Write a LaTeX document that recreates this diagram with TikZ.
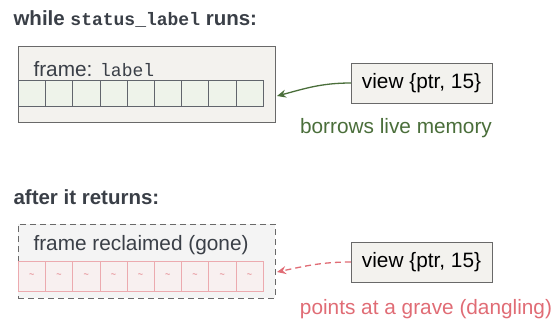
\documentclass[tikz,border=0pt]{standalone}
\usepackage{fontspec}
\setmainfont{Liberation Sans}
\setmonofont{Liberation Mono}
\usetikzlibrary{arrows.meta,positioning}
\definecolor{lbink}{RGB}{58,63,71}
\definecolor{lbgrey}{RGB}{105,105,105}
\definecolor{lbpaper}{RGB}{243,242,238}
\definecolor{lbgone}{RGB}{244,244,244}
\definecolor{lbcell}{RGB}{238,243,234}
\definecolor{lbgreen}{RGB}{74,110,58}
\definecolor{lbred}{RGB}{224,108,117}
\definecolor{lbpink}{RGB}{248,240,240}
\definecolor{lbpinkline}{RGB}{236,170,175}
\newcommand{\lbcode}[1]{{\fontsize{18}{20}\selectfont\texttt{#1}}}
\tikzset{
  lbtitle/.style={anchor=west, text=lbink, font=\fontsize{20.5}{24}\selectfont\bfseries},
  lbframe/.style={draw=lbgrey, fill=lbpaper, minimum width=257pt, minimum height=76pt, anchor=north west, inner sep=0pt},
  lbgoneframe/.style={draw=lbgrey, dashed, dash pattern=on 6pt off 4pt, fill=lbgone, minimum width=257pt, minimum height=74pt, anchor=north west, inner sep=0pt},
  lbcellbox/.style={draw=lbink!80, fill=lbcell, minimum width=27.2pt, minimum height=26pt, anchor=north west, inner sep=0pt},
  lbdeadcell/.style={draw=lbpinkline, fill=lbpink, minimum width=27.2pt, minimum height=30pt, anchor=north west, inner sep=0pt, text=lbred, font=\fontsize{9}{10}\selectfont},
  lbview/.style={draw=lbgrey, fill=lbpaper, minimum width=141pt, minimum height=40pt, inner sep=0pt, font=\fontsize{20.8}{24}\selectfont},
  lbnote/.style={font=\fontsize{20.8}{24}\selectfont},
  lbarr/.style={-{Stealth[length=9pt,width=8pt,inset=3pt]}, line width=1.3pt, draw=lbgreen},
  lbarrdead/.style={-{Stealth[length=9pt,width=8pt,inset=3pt]}, line width=1.3pt, draw=lbred, dash pattern=on 6pt off 4pt}
}
\begin{document}
\begin{tikzpicture}[x=1pt, y=-1pt]
  \useasboundingbox (0,0) rectangle (554,322);
  % live frame
  \node[lbtitle] (t1) at (10,19) {while \lbcode{status\_label} runs:};
  \node[lbframe] (fr1) at (18,46) {};
  \node[lbnote, anchor=west, text=lbink] (fl1) at (30,69) {frame: \lbcode{label}};
  \foreach \i in {0,...,8}
    \node[lbcellbox] (c\i) at (18+27.2*\i,80) {};
  \node[lbview] (v1) at (421.5,83) {view \{ptr, 15\}};
  \coordinate (p1) at (277,96);
  \draw[lbarr] (v1.west) to[out=180,in=15] (p1);
  \node[lbnote, text=lbgreen] (n1) at (396,128) {borrows live memory};
  % after return
  \node[lbtitle] (t2) at (10,197) {after it returns:};
  \node[lbgoneframe] (fr2) at (18,224) {};
  \node[lbnote, anchor=west, text=lbink] (fl2) at (30,245) {frame reclaimed (gone)};
  \foreach \i in {0,...,8}
    \node[lbdeadcell] (d\i) at (18+27.2*\i,261) {\textasciitilde};
  \node[lbview] (v2) at (421.5,262) {view \{ptr, 15\}};
  \coordinate (p2) at (277,272);
  \draw[lbarrdead] (v2.west) to[out=180,in=12] (p2);
  \node[lbnote, text=lbred] (n2) at (426,309) {points at a grave (dangling)};
\end{tikzpicture}
\end{document}
